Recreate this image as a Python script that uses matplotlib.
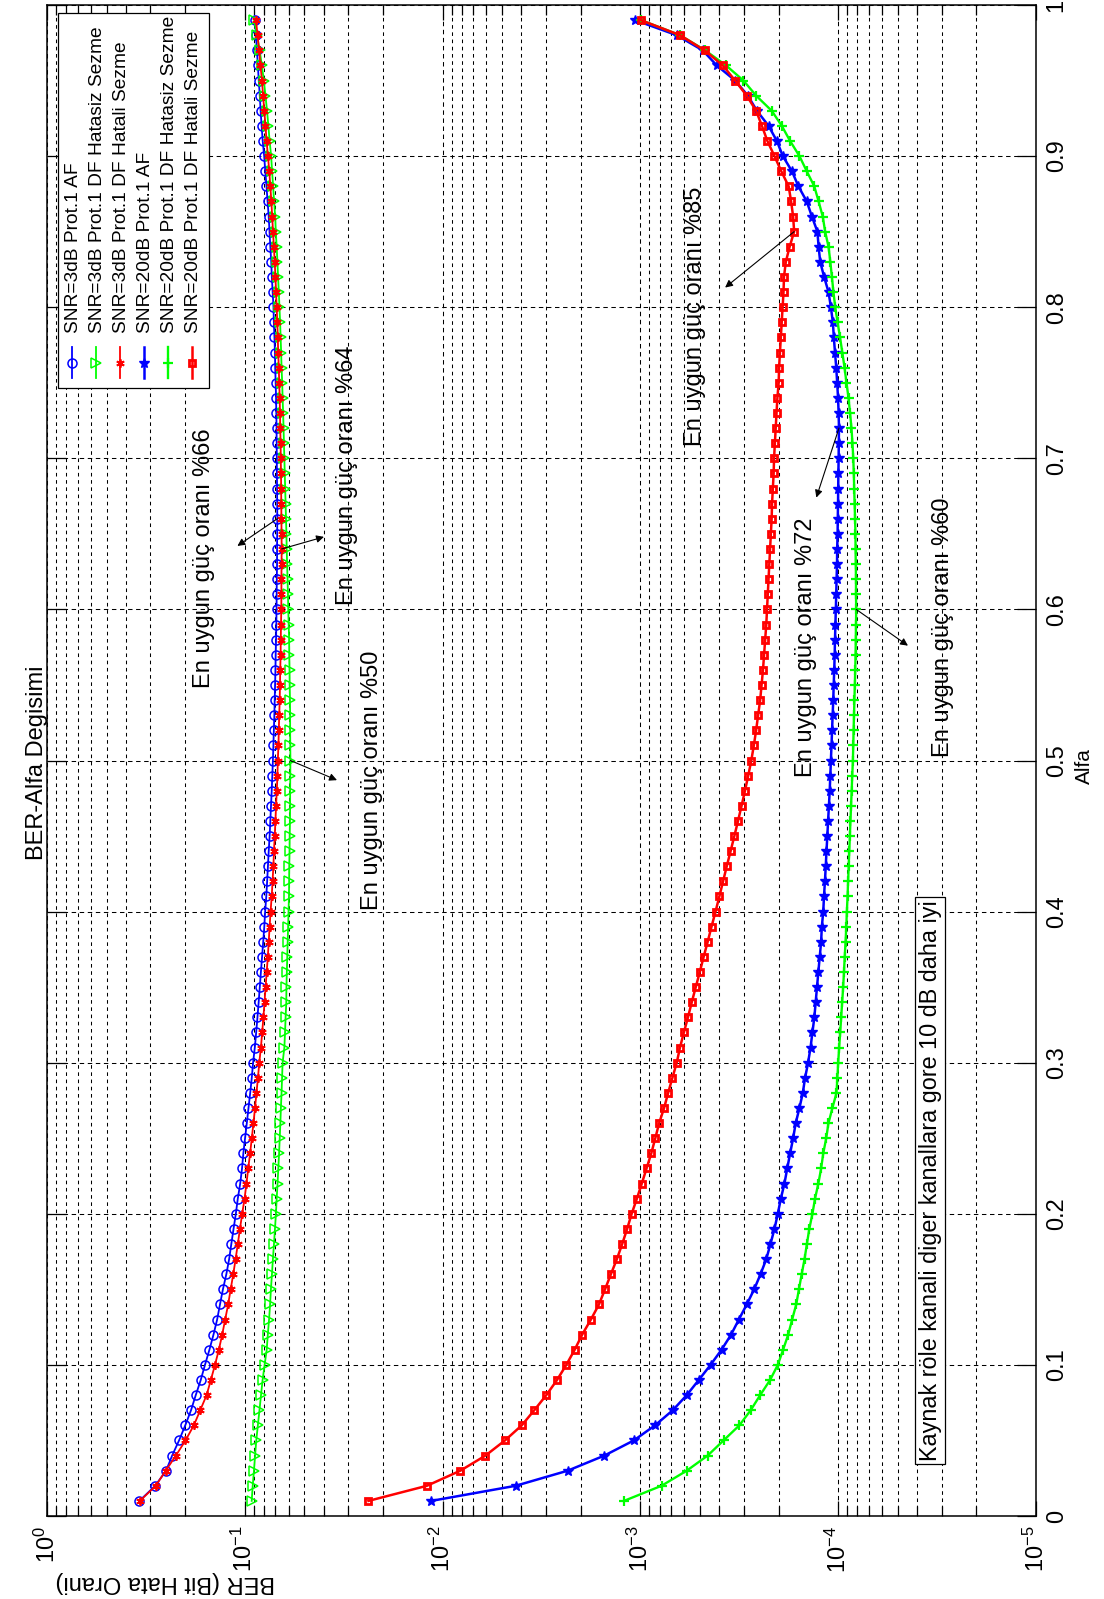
import numpy as np
import matplotlib
matplotlib.use("Agg")
import matplotlib.pyplot as plt
from matplotlib import font_manager
from matplotlib.patches import Rectangle
from matplotlib.ticker import (FixedLocator, LogLocator, LogFormatterSciNotation,
                               NullFormatter)

# ---------------------------------------------------------------- data
alfa = np.round(np.arange(1, 100) / 100.0, 2)          # 0.01 ... 0.99

ber_3db_af = [
    0.341, 0.284, 0.250, 0.233, 0.215, 0.200, 0.187, 0.177, 0.167, 0.159,
    0.151, 0.144, 0.138, 0.1335, 0.129, 0.124, 0.120, 0.117, 0.114, 0.111,
    0.1085, 0.1055, 0.1033, 0.1017, 0.0997, 0.0977, 0.0958, 0.0939, 0.0922, 0.0908,
    0.0890, 0.0876, 0.0863, 0.0851, 0.0840, 0.0829, 0.0818, 0.0807, 0.0797, 0.0789,
    0.0779, 0.0771, 0.0764, 0.0757, 0.0749, 0.0743, 0.0737, 0.0731, 0.0726, 0.0721,
    0.0717, 0.0713, 0.0709, 0.0706, 0.0703, 0.0700, 0.0698, 0.0695, 0.0693, 0.0691,
    0.0690, 0.0689, 0.0687, 0.0687, 0.0686, 0.0685, 0.0686, 0.0687, 0.0688, 0.0689,
    0.0690, 0.0691, 0.0693, 0.0695, 0.0698, 0.0702, 0.0704, 0.0708, 0.0713, 0.0716,
    0.0723, 0.0730, 0.0735, 0.0743, 0.0750, 0.0757, 0.0767, 0.0777, 0.0788, 0.0798,
    0.0812, 0.0822, 0.0832, 0.0840, 0.0850, 0.0859, 0.0868, 0.0879, 0.0887]

ber_3db_df_hatasiz = [
    0.0923, 0.0912, 0.0899, 0.0887, 0.0875, 0.0859, 0.0843, 0.0828, 0.0813, 0.0794,
    0.0775, 0.0765, 0.0754, 0.0745, 0.0738, 0.0729, 0.0721, 0.0712, 0.0704, 0.0696,
    0.0690, 0.0683, 0.0677, 0.0671, 0.0666, 0.0661, 0.0657, 0.0652, 0.0648, 0.0644,
    0.0631, 0.0626, 0.0622, 0.0617, 0.0616, 0.0613, 0.0610, 0.0607, 0.0604, 0.0601,
    0.0598, 0.0597, 0.0596, 0.0594, 0.0593, 0.0591, 0.0590, 0.0590, 0.0589, 0.0588,
    0.0589, 0.0590, 0.0590, 0.0591, 0.0593, 0.0594, 0.0596, 0.0597, 0.0600, 0.0603,
    0.0605, 0.0608, 0.0611, 0.0614, 0.0616, 0.0619, 0.0622, 0.0625, 0.0628, 0.0631,
    0.0634, 0.0637, 0.0640, 0.0644, 0.0647, 0.0652, 0.0655, 0.0659, 0.0663, 0.0668,
    0.0673, 0.0679, 0.0684, 0.0690, 0.0697, 0.0702, 0.0711, 0.0719, 0.0728, 0.0736,
    0.0749, 0.0760, 0.0772, 0.0786, 0.0801, 0.0820, 0.0841, 0.0867, 0.0897]

ber_3db_df_hatali = [
    0.339, 0.282, 0.251, 0.223, 0.1995, 0.181, 0.168, 0.156, 0.1485, 0.1415,
    0.1353, 0.1301, 0.1257, 0.1214, 0.1179, 0.1144, 0.1113, 0.1085, 0.1058, 0.1031,
    0.1003, 0.0981, 0.0961, 0.0940, 0.0922, 0.0904, 0.0888, 0.0873, 0.0858, 0.0845,
    0.0829, 0.0817, 0.0805, 0.0795, 0.0785, 0.0775, 0.0765, 0.0757, 0.0749, 0.0741,
    0.0731, 0.0724, 0.0717, 0.0712, 0.0706, 0.0700, 0.0695, 0.0689, 0.0684, 0.0681,
    0.0676, 0.0673, 0.0670, 0.0666, 0.0664, 0.0662, 0.0659, 0.0658, 0.0656, 0.0654,
    0.0653, 0.0653, 0.0652, 0.0651, 0.0652, 0.0653, 0.0654, 0.0655, 0.0656, 0.0658,
    0.0659, 0.0662, 0.0664, 0.0666, 0.0670, 0.0673, 0.0678, 0.0681, 0.0685, 0.0690,
    0.0695, 0.0700, 0.0706, 0.0713, 0.0720, 0.0727, 0.0734, 0.0743, 0.0752, 0.0764,
    0.0776, 0.0786, 0.0797, 0.0808, 0.0819, 0.0833, 0.0847, 0.0862, 0.0878]

ber_20db_af = [
    1.14e-2, 4.27e-3, 2.33e-3, 1.52e-3, 1.08e-3, 8.43e-4, 6.86e-4, 5.83e-4, 5.07e-4, 4.42e-4,
    3.89e-4, 3.48e-4, 3.18e-4, 2.90e-4, 2.66e-4, 2.47e-4, 2.31e-4, 2.20e-4, 2.10e-4, 2.02e-4,
    1.95e-4, 1.87e-4, 1.81e-4, 1.75e-4, 1.69e-4, 1.64e-4, 1.57e-4, 1.51e-4, 1.47e-4, 1.42e-4,
    1.38e-4, 1.35e-4, 1.32e-4, 1.30e-4, 1.28e-4, 1.26e-4, 1.24e-4, 1.22e-4, 1.21e-4, 1.19e-4,
    1.18e-4, 1.167e-4, 1.156e-4, 1.146e-4, 1.135e-4, 1.125e-4, 1.114e-4, 1.104e-4, 1.096e-4, 1.089e-4,
    1.081e-4, 1.074e-4, 1.067e-4, 1.059e-4, 1.054e-4, 1.047e-4, 1.042e-4, 1.038e-4, 1.033e-4, 1.028e-4,
    1.023e-4, 1.019e-4, 1.014e-4, 1.012e-4, 1.007e-4, 1.005e-4, 1.002e-4, 1.000e-4, 9.98e-5, 9.95e-5,
    9.93e-5, 9.91e-5, 9.95e-5, 1.002e-4, 1.012e-4, 1.023e-4, 1.038e-4, 1.052e-4, 1.064e-4, 1.089e-4,
    1.119e-4, 1.178e-4, 1.233e-4, 1.256e-4, 1.274e-4, 1.358e-4, 1.442e-4, 1.589e-4, 1.714e-4, 1.905e-4,
    2.042e-4, 2.249e-4, 2.576e-4, 2.864e-4, 3.319e-4, 4.111e-4, 4.842e-4, 6.546e-4, 1.064e-3]

ber_20db_df_hatasiz = [
    1.21e-3, 7.82e-4, 5.83e-4, 4.57e-4, 3.80e-4, 3.16e-4, 2.77e-4, 2.48e-4, 2.21e-4, 2.02e-4,
    1.90e-4, 1.79e-4, 1.71e-4, 1.63e-4, 1.58e-4, 1.53e-4, 1.48e-4, 1.44e-4, 1.40e-4, 1.35e-4,
    1.31e-4, 1.26e-4, 1.22e-4, 1.19e-4, 1.15e-4, 1.12e-4, 1.07e-4, 1.02e-4, 1.01e-4, 1.00e-4,
    9.89e-5, 9.77e-5, 9.66e-5, 9.55e-5, 9.44e-5, 9.35e-5, 9.27e-5, 9.18e-5, 9.10e-5, 9.04e-5,
    8.97e-5, 8.91e-5, 8.85e-5, 8.79e-5, 8.73e-5, 8.67e-5, 8.61e-5, 8.55e-5, 8.49e-5, 8.43e-5,
    8.39e-5, 8.36e-5, 8.32e-5, 8.28e-5, 8.24e-5, 8.20e-5, 8.17e-5, 8.15e-5, 8.13e-5, 8.11e-5,
    8.13e-5, 8.13e-5, 8.15e-5, 8.17e-5, 8.18e-5, 8.22e-5, 8.26e-5, 8.30e-5, 8.34e-5, 8.39e-5,
    8.47e-5, 8.57e-5, 8.71e-5, 8.87e-5, 9.08e-5, 9.29e-5, 9.53e-5, 9.79e-5, 1.007e-4, 1.035e-4,
    1.057e-4, 1.076e-4, 1.096e-4, 1.119e-4, 1.164e-4, 1.197e-4, 1.256e-4, 1.321e-4, 1.442e-4, 1.570e-4,
    1.750e-4, 1.928e-4, 2.168e-4, 2.600e-4, 3.013e-4, 3.690e-4, 4.710e-4, 6.295e-4, 9.95e-4]

ber_20db_df_hatali = [
    2.37e-2, 1.20e-2, 8.13e-3, 6.07e-3, 4.84e-3, 3.98e-3, 3.44e-3, 2.99e-3, 2.64e-3, 2.37e-3,
    2.15e-3, 1.97e-3, 1.78e-3, 1.62e-3, 1.51e-3, 1.41e-3, 1.315e-3, 1.236e-3, 1.167e-3, 1.107e-3,
    1.042e-3, 9.84e-4, 9.31e-4, 8.81e-4, 8.41e-4, 8.04e-4, 7.59e-4, 7.24e-4, 6.89e-4, 6.55e-4,
    6.31e-4, 6.03e-4, 5.75e-4, 5.50e-4, 5.25e-4, 5.01e-4, 4.79e-4, 4.57e-4, 4.37e-4, 4.17e-4,
    3.99e-4, 3.82e-4, 3.66e-4, 3.50e-4, 3.35e-4, 3.21e-4, 3.08e-4, 2.96e-4, 2.85e-4, 2.75e-4,
    2.67e-4, 2.60e-4, 2.54e-4, 2.48e-4, 2.44e-4, 2.40e-4, 2.37e-4, 2.34e-4, 2.31e-4, 2.29e-4,
    2.27e-4, 2.25e-4, 2.23e-4, 2.21e-4, 2.19e-4, 2.17e-4, 2.16e-4, 2.14e-4, 2.12e-4, 2.11e-4,
    2.09e-4, 2.07e-4, 2.05e-4, 2.03e-4, 2.00e-4, 1.99e-4, 1.97e-4, 1.95e-4, 1.93e-4, 1.91e-4,
    1.89e-4, 1.88e-4, 1.84e-4, 1.76e-4, 1.67e-4, 1.69e-4, 1.73e-4, 1.78e-4, 1.94e-4, 2.10e-4,
    2.28e-4, 2.43e-4, 2.60e-4, 2.90e-4, 3.32e-4, 3.83e-4, 4.74e-4, 6.30e-4, 9.95e-4]

series_labels = [
    "SNR=3dB Prot.1 AF",
    "SNR=3dB Prot.1 DF Hatasiz Sezme",
    "SNR=3dB Prot.1 DF Hatali Sezme",
    "SNR=20dB Prot.1 AF",
    "SNR=20dB Prot.1 DF Hatasiz Sezme",
    "SNR=20dB Prot.1 DF Hatali Sezme",
]
series_values = [ber_3db_af, ber_3db_df_hatasiz, ber_3db_df_hatali,
                 ber_20db_af, ber_20db_df_hatasiz, ber_20db_df_hatali]

ber_ticks = [1e0, 1e-1, 1e-2, 1e-3, 1e-4, 1e-5]
alfa_ticks = [0, 0.1, 0.2, 0.3, 0.4, 0.5, 0.6, 0.7, 0.8, 0.9, 1.0]
alfa_tick_labels = ["0", "0.1", "0.2", "0.3", "0.4", "0.5", "0.6", "0.7", "0.8", "0.9", "1"]

# ---------------------------------------------------------------- styles
asterisk = (6, 2, 0)
styles = [
    dict(color="b", marker="o", ms=6.5, mfc="none", mew=1.1, lw=1.3),
    dict(color="#00ff00", marker=">", ms=6.8, mfc="none", mew=1.1, lw=1.3),
    dict(color="r", marker=asterisk, ms=6.0, mew=1.3, lw=1.3),
    dict(color="b", marker="*", ms=7.5, mew=1.0, lw=1.8),
    dict(color="#00ff00", marker="+", ms=7.5, mew=1.6, lw=1.7),
    dict(color="r", marker="s", ms=5.0, mfc="none", mew=2.0, lw=1.8),
]

# ---------------------------------------------------------------- fonts
installed = {f.name for f in font_manager.fontManager.ttflist}
narrow = "Liberation Sans Narrow" in installed
main_font = "Liberation Sans Narrow" if narrow else "Liberation Sans"
plt.rcParams["font.family"] = [main_font, "DejaVu Sans"]
plt.rcParams["lines.scale_dashes"] = False
plt.rcParams["axes.unicode_minus"] = False
if narrow:
    fs_tick, fs_leg, fs_title, fs_ber, fs_alfa, fs_box = 19.0, 16.5, 20.0, 20.5, 18.0, 20.0
else:
    fs_tick, fs_leg, fs_title, fs_ber, fs_alfa, fs_box = 17.0, 13.8, 17.0, 17.0, 15.0, 16.8
fs_note = 17.0
note_font = ["Liberation Sans", "DejaVu Sans"]

# ---------------------------------------------------------------- figure
W, H = 1104, 1599
AX_L, AX_R, AX_T, AX_B = 47, 1036, 5, 1516
fig = plt.figure(figsize=(W / 100, H / 100), dpi=100)
ax = fig.add_axes([AX_L / W, (H - AX_B) / H, (AX_R - AX_L) / W, (AX_B - AX_T) / H])


def axfrac(px, py):
    """pixel position on the canvas -> axes fraction"""
    return (px - AX_L) / (AX_R - AX_L), (AX_B - py) / (AX_B - AX_T)


for vals, st in zip(series_values, styles):
    ax.plot(vals, alfa, **st)

ax.set_xscale("log")
ax.set_xlim(1, 1e-5)
ax.set_ylim(0, 1)

ax.xaxis.set_major_locator(FixedLocator(ber_ticks))
ax.xaxis.set_major_formatter(LogFormatterSciNotation())
ax.xaxis.set_minor_locator(LogLocator(base=10, subs=np.arange(2, 10), numticks=20))
ax.xaxis.set_minor_formatter(NullFormatter())
ax.yaxis.set_major_locator(FixedLocator(alfa_ticks))
ax.set_yticklabels(alfa_tick_labels)

ax.tick_params(which="both", direction="in", top=True, bottom=True, left=True, right=True,
               width=0.9, colors="k")
ax.tick_params(axis="y", length=14, labelleft=False, labelright=True,
               labelrotation=90, pad=7, labelsize=fs_tick)
ax.tick_params(axis="x", which="major", length=11, labelrotation=90, pad=7,
               labelsize=fs_tick)
ax.tick_params(axis="x", which="minor", length=7)
plt.setp(ax.get_yticklabels(), va="center", ha="left")

ax.grid(True, which="major", axis="both", color="k", lw=0.75, ls=(0, (3.2, 2.6)))
ax.grid(True, which="minor", axis="x", color="k", lw=0.75, ls=(0, (2.6, 2.6)))
for sp in ax.spines.values():
    sp.set_linewidth(1.1)

# ---------------------------------------------------------------- legend
leg_x = [72, 96, 120, 144, 168, 192]
x0, y0 = axfrac(58, 388)
x1, y1 = axfrac(209, 13)
ax.add_patch(Rectangle((x0, y0), x1 - x0, y1 - y0, transform=ax.transAxes,
                       facecolor="white", edgecolor="k", lw=0.9, zorder=5,
                       clip_on=False))
for lx, lab, st in zip(leg_x, series_labels, styles):
    fx, fa = axfrac(lx, 378)
    _, fb = axfrac(lx, 362.5)
    _, fc = axfrac(lx, 347)
    ax.plot([fx, fx, fx], [fa, fb, fc], transform=ax.transAxes, clip_on=False,
            markevery=[1], zorder=6, **st)
    tx, ty = axfrac(lx + 1.5, 333)
    ax.text(tx, ty, lab, rotation=90, ha="center", va="bottom",
            transform=ax.transAxes, fontsize=fs_leg, zorder=7)

# ---------------------------------------------------------------- notes
# (series, text centre (BER, alfa), arrow head (BER, alfa))
notes = [
    (ber_3db_af, (0.161, 0.634), (0.109, 0.642)),
    (ber_3db_df_hatali, (0.0304, 0.689), (0.0398, 0.648)),
    (ber_3db_df_hatasiz, (0.0228, 0.487), (0.0342, 0.487)),
    (ber_20db_df_hatali, (5.30e-4, 0.794), (3.73e-4, 0.813)),
    (ber_20db_af, (1.46e-4, 0.575), (1.29e-4, 0.674)),
    (ber_20db_df_hatasiz, (2.95e-5, 0.588), (4.44e-5, 0.576)),
]
for vals, tpos, head in notes:
    i = int(np.argmin(vals))
    ax.annotate("", xy=head, xytext=(vals[i], alfa[i]),
                arrowprops=dict(arrowstyle="-|>", color="k", lw=0.8,
                                shrinkA=0, shrinkB=0, mutation_scale=11))
    ax.text(tpos[0], tpos[1], f"En uygun güç oranı %{int(round(alfa[i] * 100))}",
            rotation=90, ha="center", va="center", fontsize=fs_note,
            family=note_font)

ax.text(3.43e-5, 0.222, "Kaynak röle kanali diger kanallara gore 10 dB daha iyi",
        rotation=90, ha="center", va="center", fontsize=fs_box, zorder=6,
        bbox=dict(boxstyle="square,pad=0.15", facecolor="white", edgecolor="k", lw=0.9))

# ---------------------------------------------------------------- titles
fig.text(37 / W, 1 - 763 / H, "BER-Alfa Degisimi", rotation=90, ha="center",
         va="center", fontsize=fs_title)
fig.text(165 / W, 1 - 1582 / H, "BER (Bit Hata Orani)", rotation=180, ha="center",
         va="center", fontsize=fs_ber)
fig.text(1084 / W, 1 - 766 / H, "Alfa", rotation=90, ha="center", va="center",
         fontsize=fs_alfa)

fig.savefig("out.png", dpi=100)
